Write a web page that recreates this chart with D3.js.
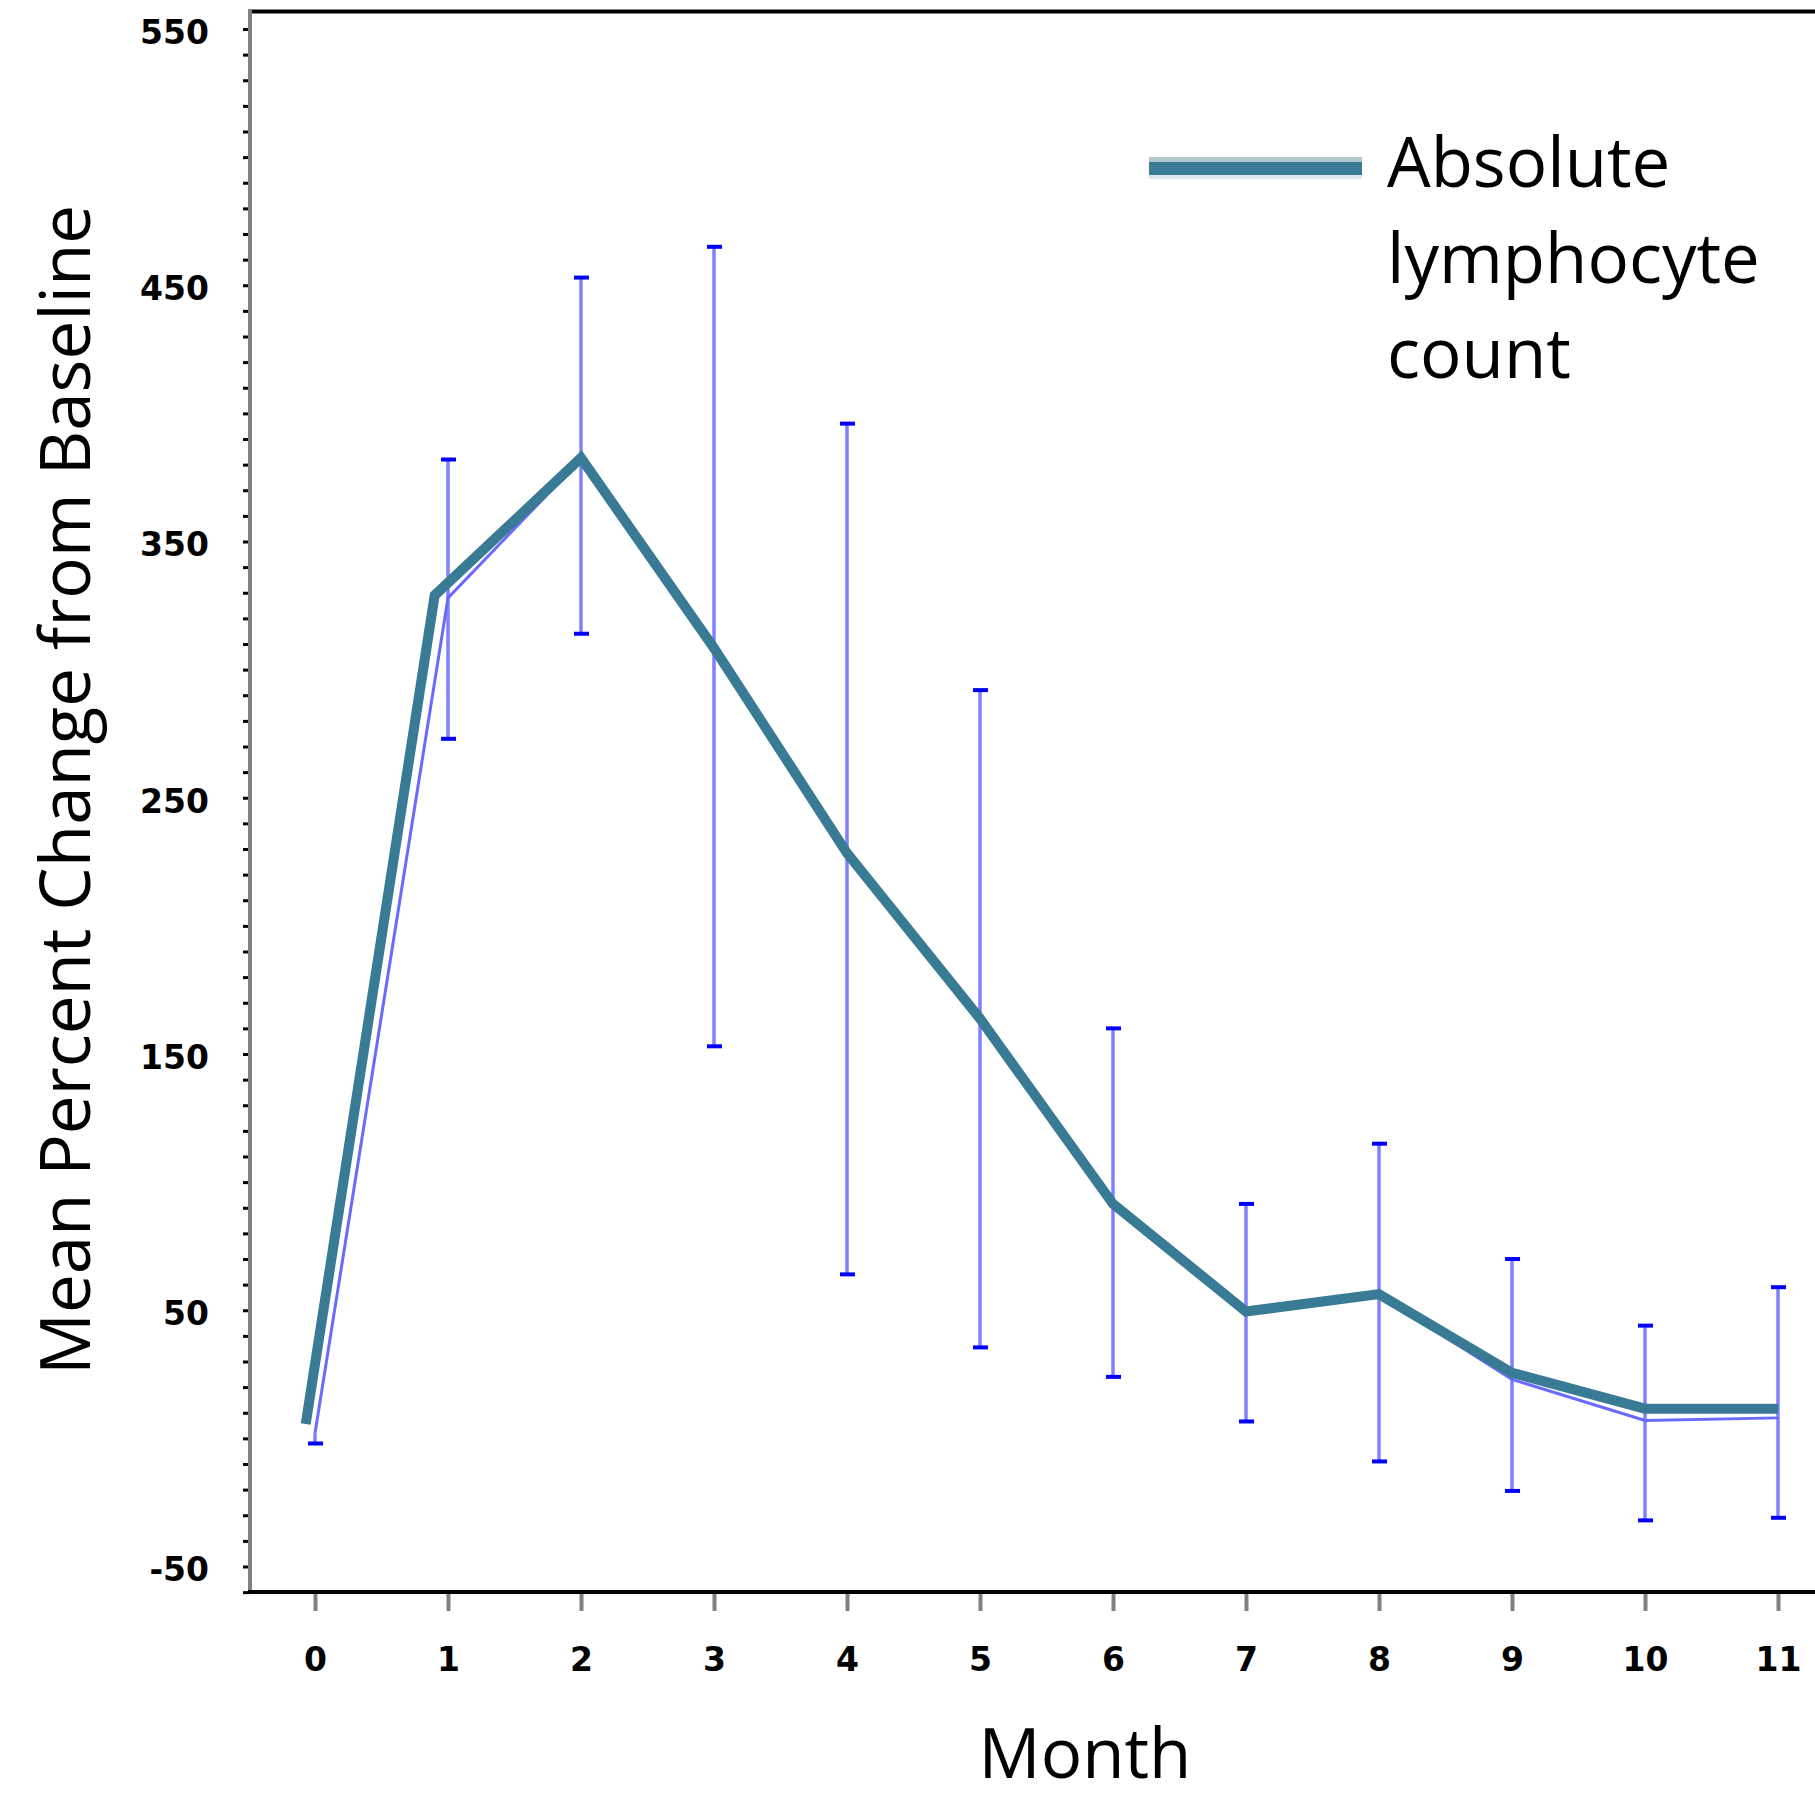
<!DOCTYPE html>
<html>
<head>
<meta charset="utf-8">
<script src="https://cdn.jsdelivr.net/npm/d3@7"></script>
<style>
  body { margin: 0; background: #fff; }
  svg { display: block; }
</style>
</head>
<body>
<div id="chart"></div>
<script>
// DATA
const months = [0, 1, 2, 3, 4, 5, 6, 7, 8, 9, 10, 11];
// thick teal series (drawn slightly offset from the month ticks in the original)
const tealMonths = [-0.07, 0.9, 2, 3, 4, 5, 6, 7, 8, 9, 10, 11];
const tealValues = [5.6, 329, 382.6, 308.4, 228.4, 163.8, 91.5, 49.5, 56.3, 25.6, 11.6, 11.6];
// thin blue series with error bars
const meanValues = [2, 328, 382, 308, 228, 164, 91, 49, 56, 23, 7, 8];
const errHigh = [null, 382, 453, 465, 396, 292, 160, 91.5, 115, 70, 44, 59];
const errLow = [-2, 273, 314, 153, 64, 35.5, 24, 6.6, -9, -20.5, -32, -31];
const yTickLabels = [-50, 50, 150, 250, 350, 450, 550];
const legendLines = ["Absolute", "lymphocyte", "count"];

function drawChart() {
  const W = 1815, H = 1797;
  const plotLeft = 250, plotTop = 11.5, plotBottom = 1592;

  const svg = d3.select("#chart")
    .append("svg")
    .attr("width", W)
    .attr("height", H);

  var x = d3.scaleLinear().domain([0, 11]).range([315, 1778]);
  var y = d3.scaleLinear().domain([-50, 550]).range([1566.5, 29]);

  // FRAME: top border
  svg.append("line")
    .attr("x1", plotLeft).attr("x2", W)
    .attr("y1", plotTop).attr("y2", plotTop)
    .attr("stroke", "#000").attr("stroke-width", 4);

  // Y AXIS (minor ticks every 10)
  const yAxis = svg.append("g")
    .attr("transform", `translate(${plotLeft}, 0)`)
    .call(d3.axisLeft(y)
      .tickValues(d3.range(-60, 551, 10))
      .tickSize(7)
      .tickSizeOuter(0)
      .tickFormat(""));
  yAxis.select(".domain").remove();
  yAxis.selectAll(".tick line").attr("stroke", "#000").attr("stroke-width", 3);

  svg.append("line")
    .attr("x1", plotLeft).attr("x2", plotLeft)
    .attr("y1", 9).attr("y2", plotBottom)
    .attr("stroke", "#808080").attr("stroke-width", 4);

  // Y tick labels
  svg.append("g")
    .selectAll("text")
    .data(yTickLabels)
    .enter()
    .append("text")
    .attr("x", 209)
    .attr("y", (d) => y(d) + 3)
    .attr("dy", "0.36em")
    .attr("text-anchor", "end")
    .style("font-family", "'DejaVu Sans', Verdana, sans-serif")
    .style("font-weight", "bold")
    .style("font-size", "33px")
    .text((d) => d);

  // X AXIS
  const xAxis = svg.append("g")
    .attr("transform", `translate(0, ${plotBottom})`)
    .call(d3.axisBottom(x).tickValues(months).tickSize(19).tickSizeOuter(0));
  xAxis.select(".domain").remove();
  xAxis.selectAll(".tick line").attr("stroke", "#808080").attr("stroke-width", 4);
  xAxis.selectAll(".tick text")
    .attr("y", 67)
    .attr("dy", "0.36em")
    .attr("fill", "#000")
    .style("font-family", "'DejaVu Sans', Verdana, sans-serif")
    .style("font-weight", "bold")
    .style("font-size", "33px");

  svg.append("line")
    .attr("x1", plotLeft - 2).attr("x2", W)
    .attr("y1", plotBottom).attr("y2", plotBottom)
    .attr("stroke", "#000").attr("stroke-width", 4);

  // ERROR BARS
  const bars = svg.append("g").attr("class", "errorbars");
  months.forEach((m, i) => {
    const top = errHigh[i] == null ? meanValues[i] : errHigh[i];
    bars.append("line")
      .attr("x1", x(m)).attr("x2", x(m))
      .attr("y1", y(top)).attr("y2", y(errLow[i]))
      .attr("stroke", "#8080ff").attr("stroke-width", 3.5);
    [errHigh[i], errLow[i]].forEach((v) => {
      if (v == null) return;
      bars.append("line")
        .attr("x1", x(m) - 7).attr("x2", x(m) + 8)
        .attr("y1", y(v)).attr("y2", y(v))
        .attr("stroke", "#0000ff").attr("stroke-width", 4);
    });
  });

  // THIN BLUE MEAN LINE
  var blueLine = d3.line()
    .x((d, i) => x(months[i]))
    .y((d) => y(d));

  svg.append("path")
    .attr("d", blueLine(meanValues))
    .attr("fill", "none")
    .attr("stroke", "#6a6aff")
    .attr("stroke-width", 3);

  // THICK TEAL LINE
  var tealLine = d3.line()
    .x((d, i) => x(tealMonths[i]))
    .y((d) => y(d));

  svg.append("path")
    .attr("d", tealLine(tealValues))
    .attr("fill", "none")
    .attr("stroke", "#397b94")
    .attr("stroke-width", 10)
    .attr("stroke-linejoin", "miter");

  // LEGEND
  const legend = svg.append("g").attr("class", "legend");
  legend.append("line")
    .attr("x1", 1149).attr("x2", 1362).attr("y1", 160).attr("y2", 160)
    .attr("stroke", "#b3c6d0").attr("stroke-width", 6);
  legend.append("line")
    .attr("x1", 1149).attr("x2", 1362).attr("y1", 177).attr("y2", 177)
    .attr("stroke", "#dfe6ea").attr("stroke-width", 4);
  legend.append("line")
    .attr("x1", 1149).attr("x2", 1362).attr("y1", 168.5).attr("y2", 168.5)
    .attr("stroke", "#397b94").attr("stroke-width", 13);

  legend.selectAll(".legend-text")
    .data(legendLines)
    .enter()
    .append("text")
    .attr("class", "legend-text")
    .attr("x", 1387)
    .attr("y", (d, i) => 187 + i * 95.5)
    .style("font-family", "'Open Sans', sans-serif")
    .style("font-size", "69px")
    .attr("fill", "#000")
    .text((d) => d);

  // AXIS TITLES
  svg.append("text")
    .attr("x", 1085)
    .attr("y", 1778)
    .attr("text-anchor", "middle")
    .style("font-family", "'Open Sans', sans-serif")
    .style("font-size", "69px")
    .text("Month");

  svg.append("text")
    .attr("transform", "translate(90, 790) rotate(-90)")
    .attr("text-anchor", "middle")
    .style("font-family", "'Open Sans', sans-serif")
    .style("font-size", "69px")
    .text("Mean Percent Change from Baseline");
}

drawChart();
</script>
</body>
</html>
